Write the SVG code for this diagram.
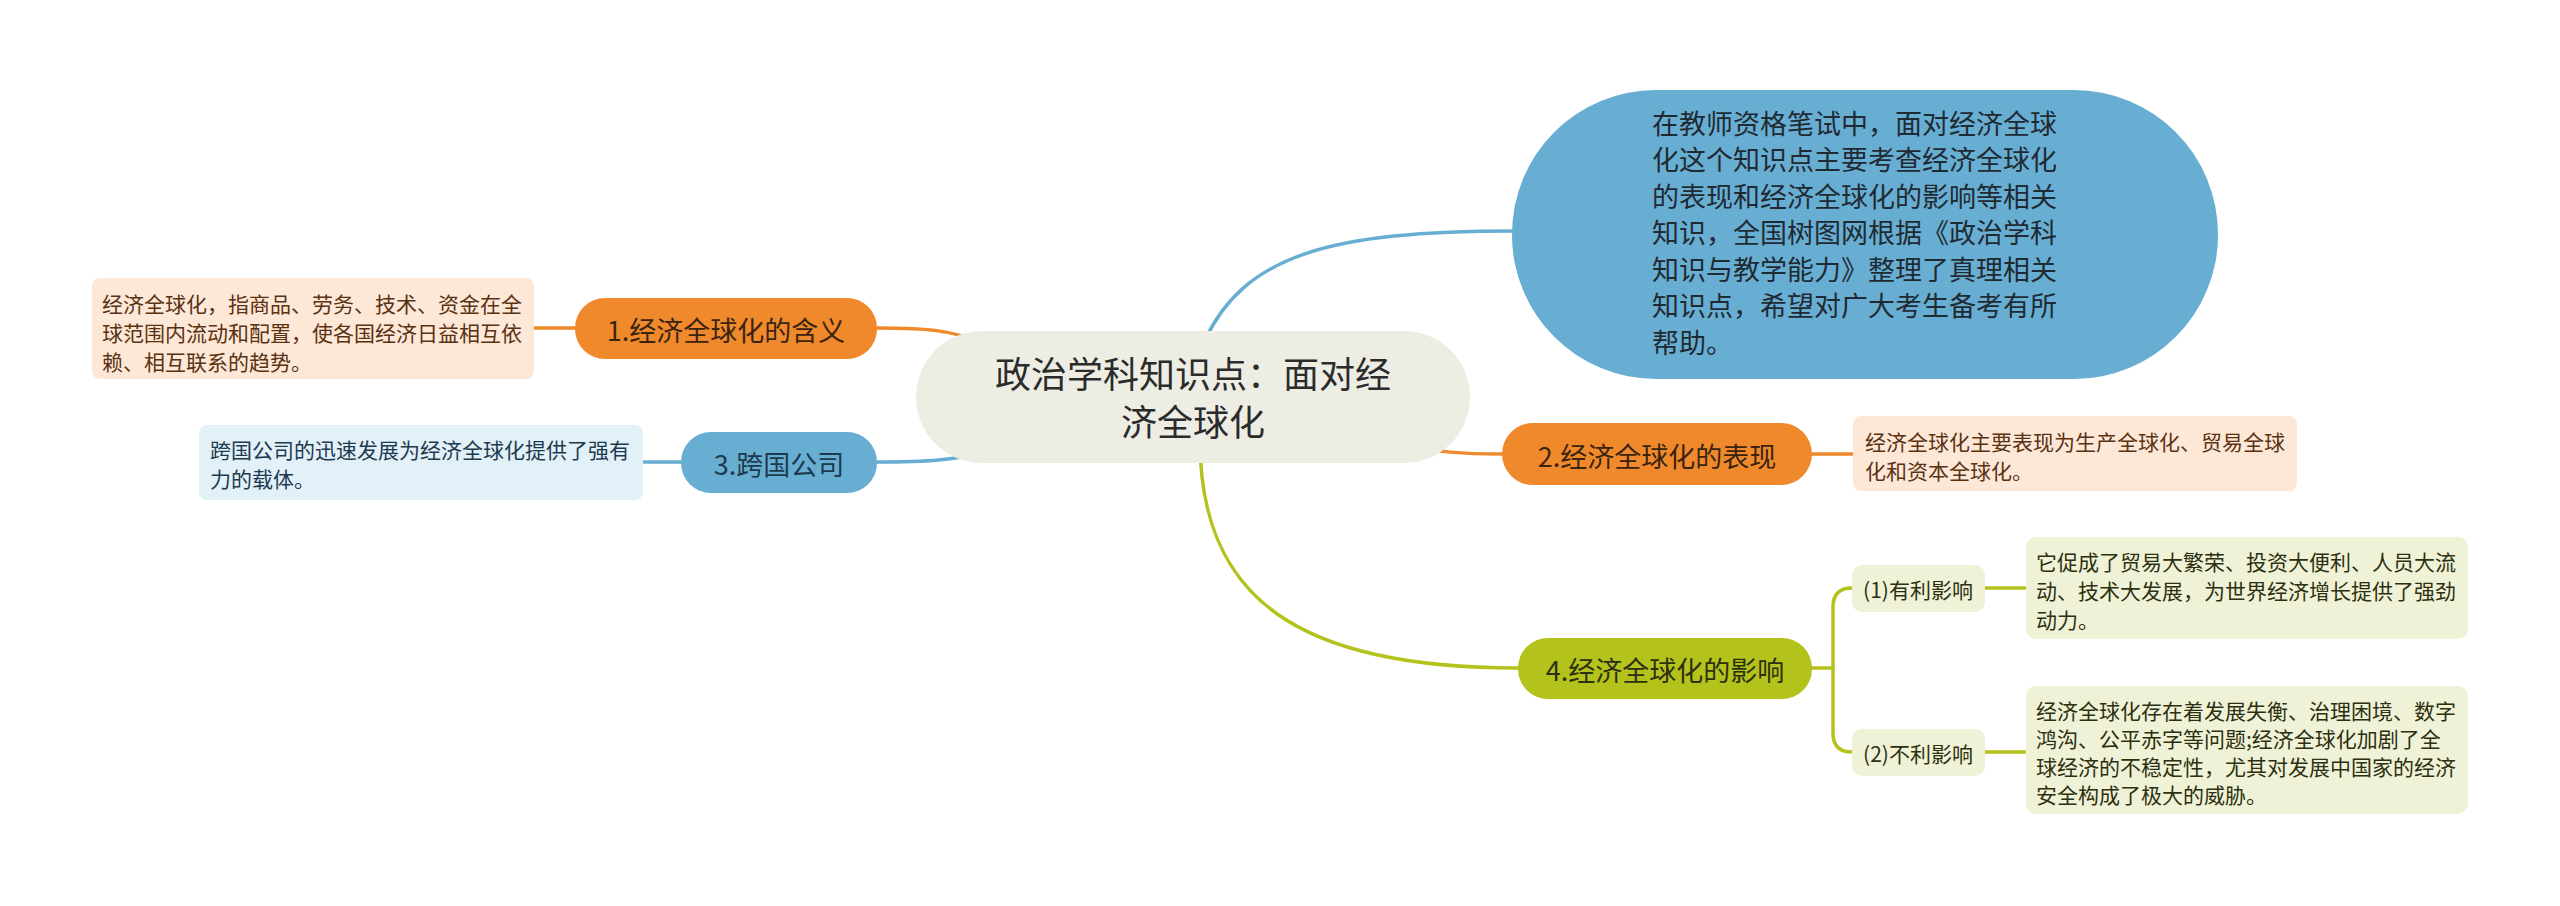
<svg xmlns="http://www.w3.org/2000/svg" width="2560" height="906" viewBox="0 0 2560 906">
<style>
text{font-family:"Noto Sans CJK SC","Noto Sans",sans-serif;dominant-baseline:central}
.c{text-anchor:middle}
.big{font-size:27px}
.sm{font-size:21px}
.or{fill:#F0892B}
.bl{fill:#68AED2}
.yg{fill:#B4C21C}
.pe{fill:#FDE7D7}
.lb{fill:#E2F0F8}
.ly{fill:#F0F2D7}
.t-or{fill:#3a2410}
.t-pe{fill:#5a3212}
.t-bl{fill:#1d3a4e}
.t-yg{fill:#2c3010}
.conn path{fill:none;stroke-width:3.5;stroke-linecap:round}
</style>
<rect width="2560" height="906" fill="#ffffff"/>
<g id="connectors" class="conn">
<path d="M1205,340 C1245,255 1330,231 1515,231" stroke="#68AED2"/>
<path d="M877,328 C930,328 950,330 990,345" stroke="#F0892B"/>
<path d="M877,462 C930,462 950,460 990,452" stroke="#68AED2"/>
<path d="M1502,454 C1460,454 1440,452 1400,445" stroke="#F0892B"/>
<path d="M1200,440 C1200,600 1300,668 1518,668" stroke="#B4C21C"/>
<path d="M534,328 H575" stroke="#F0892B"/>
<path d="M643,462 H681" stroke="#68AED2"/>
<path d="M1812,454 H1853" stroke="#F0892B"/>
<path d="M1812,668 H1833" stroke="#B4C21C"/>
<path d="M1852,588 Q1833,588 1833,607 V733 Q1833,752 1852,752" stroke="#B4C21C"/>
<path d="M1985,588 H2026" stroke="#B4C21C"/>
<path d="M1985,752 H2026" stroke="#B4C21C"/>
</g>
<g id="center">
<rect x="916" y="331" width="554" height="132" rx="66" fill="#EDEDE4"/>
<text class="c" x="1193" y="372" font-size="36" fill="#2b2b2b">政治学科知识点：面对经</text>
<text class="c" x="1193" y="420" font-size="36" fill="#2b2b2b">济全球化</text>
</g>
<g id="intro">
<rect x="1512" y="90" width="706" height="289" rx="144" fill="#68AED2"/>
<g class="big" fill="#1f2a33">
<text x="1652" y="122">在教师资格笔试中，面对经济全球</text>
<text x="1652" y="158">化这个知识点主要考查经济全球化</text>
<text x="1652" y="195">的表现和经济全球化的影响等相关</text>
<text x="1652" y="231">知识，全国树图网根据《政治学科</text>
<text x="1652" y="268">知识与教学能力》整理了真理相关</text>
<text x="1652" y="304">知识点，希望对广大考生备考有所</text>
<text x="1652" y="341">帮助。</text>
</g>
</g>
<g id="node1">
<rect class="or" x="575" y="298" width="302" height="61" rx="30"/>
<text class="c big t-or" x="726" y="329">1.经济全球化的含义</text>
</g>
<g id="node1-detail">
<rect class="pe" x="92" y="278" width="442" height="101" rx="8"/>
<g class="sm t-pe">
<text x="102" y="303">经济全球化，指商品、劳务、技术、资金在全</text>
<text x="102" y="332">球范围内流动和配置，使各国经济日益相互依</text>
<text x="102" y="361">赖、相互联系的趋势。</text>
</g>
</g>
<g id="node3">
<rect class="bl" x="681" y="432" width="196" height="61" rx="30"/>
<text class="c big t-bl" x="779" y="463">3.跨国公司</text>
</g>
<g id="node3-detail">
<rect class="lb" x="199" y="425" width="444" height="75" rx="8"/>
<g class="sm t-bl">
<text x="210" y="449">跨国公司的迅速发展为经济全球化提供了强有</text>
<text x="210" y="478">力的载体。</text>
</g>
</g>
<g id="node2">
<rect class="or" x="1502" y="423" width="310" height="62" rx="31"/>
<text class="c big t-or" x="1657" y="455">2.经济全球化的表现</text>
</g>
<g id="node2-detail">
<rect class="pe" x="1853" y="416" width="444" height="75" rx="8"/>
<g class="sm t-pe">
<text x="1865" y="441">经济全球化主要表现为生产全球化、贸易全球</text>
<text x="1865" y="470">化和资本全球化。</text>
</g>
</g>
<g id="node4">
<rect class="yg" x="1518" y="638" width="294" height="61" rx="30"/>
<text class="c big t-yg" x="1665" y="669">4.经济全球化的影响</text>
</g>
<g id="node4-1">
<rect class="ly" x="1852" y="565" width="133" height="47" rx="10"/>
<text class="c sm t-yg" x="1918" y="589">(1)有利影响</text>
</g>
<g id="node4-2">
<rect class="ly" x="1852" y="729" width="133" height="47" rx="10"/>
<text class="c sm t-yg" x="1918" y="753">(2)不利影响</text>
</g>
<g id="node4-1-detail">
<rect class="ly" x="2026" y="537" width="442" height="102" rx="10"/>
<g class="sm t-yg">
<text x="2036" y="561">它促成了贸易大繁荣、投资大便利、人员大流</text>
<text x="2036" y="590">动、技术大发展，为世界经济增长提供了强劲</text>
<text x="2036" y="619">动力。</text>
</g>
</g>
<g id="node4-2-detail">
<rect class="ly" x="2026" y="686" width="442" height="128" rx="10"/>
<g class="sm t-yg">
<text x="2036" y="710">经济全球化存在着发展失衡、治理困境、数字</text>
<text x="2036" y="738">鸿沟、公平赤字等问题;经济全球化加剧了全</text>
<text x="2036" y="766">球经济的不稳定性，尤其对发展中国家的经济</text>
<text x="2036" y="794">安全构成了极大的威胁。</text>
</g>
</g>
</svg>
